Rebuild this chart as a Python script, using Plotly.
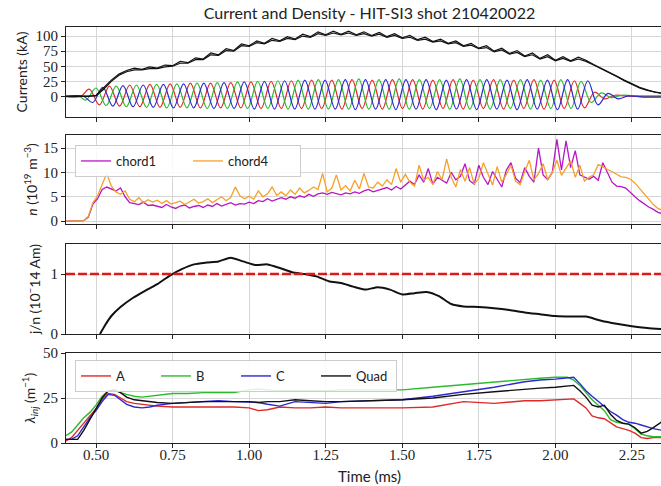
import plotly.graph_objects as go

# ---------------- data ----------------
# Panel 1: total toroidal current (two nearly overlapping black traces)
t_itor = [0.400, 0.425, 0.450, 0.475, 0.500, 0.525, 0.550, 0.575, 0.600, 0.625,
          0.650, 0.675, 0.700, 0.725, 0.750, 0.775, 0.800, 0.825, 0.850, 0.875,
          0.900, 0.925, 0.950, 0.975, 1.000, 1.025, 1.050, 1.075, 1.100, 1.125,
          1.150, 1.175, 1.200, 1.225, 1.250, 1.275, 1.300, 1.325, 1.350, 1.375,
          1.400, 1.425, 1.450, 1.475, 1.500, 1.525, 1.550, 1.575, 1.600, 1.625,
          1.650, 1.675, 1.700, 1.725, 1.750, 1.775, 1.800, 1.825, 1.850, 1.875,
          1.900, 1.925, 1.950, 1.975, 2.000, 2.025, 2.050, 2.075, 2.100, 2.125,
          2.150, 2.175, 2.200, 2.225, 2.250, 2.275, 2.300, 2.325, 2.350]
itor_1 = [0, 0, 0, 0, 2, 14, 27, 37, 43, 47,
          45, 49, 47, 52, 51, 58, 56, 64, 62, 72,
          69, 79, 76, 87, 84, 92, 88, 96, 92, 99,
          95, 103, 99, 107, 102, 108, 103, 108, 102, 107,
          101, 106, 99, 104, 97, 101, 94, 98, 91, 95,
          88, 92, 84, 88, 80, 84, 75, 80, 71, 76,
          67, 72, 63, 69, 60, 66, 59, 65, 60, 53,
          47, 41, 34, 27, 21, 15, 11, 7, 5]
itor_2 = [0, 0, 0, 0, 1, 12, 25, 35, 41, 44,
          44, 46, 46, 49, 50, 55, 55, 61, 61, 69,
          68, 76, 75, 84, 83, 89, 87, 93, 91, 96,
          94, 100, 98, 104, 101, 105, 102, 105, 101, 104,
          100, 103, 98, 101, 96, 98, 93, 95, 90, 92,
          87, 89, 83, 85, 79, 81, 74, 77, 70, 73,
          66, 69, 62, 66, 59, 63, 58, 62, 58, 52,
          46, 40, 33, 26, 20, 14, 10, 7, 5]

# Injector currents: extrema (peaks / troughs)
t_inj_a = [0.400, 0.450,
           0.478, 0.511, 0.544, 0.577, 0.610, 0.643, 0.676, 0.709, 0.742, 0.775,
           0.808, 0.841, 0.874, 0.907, 0.940, 0.973, 1.006, 1.039, 1.072, 1.105,
           1.138, 1.171, 1.204, 1.237, 1.270, 1.303, 1.336, 1.369, 1.402, 1.435,
           1.468, 1.501, 1.534, 1.567, 1.600, 1.633, 1.666, 1.699, 1.732, 1.765,
           1.798, 1.831, 1.864, 1.897, 1.930, 1.963, 1.996, 2.029, 2.062, 2.095,
           2.128, 2.161, 2.194,
           2.250, 2.350]
inj_a = [0, 0,
         12, -14, 17, -16, 19, -17, 20, -18, 21, -18,
         22, -19, 22, -19, 23, -19, 24, -20, 25, -20,
         26, -20, 27, -20, 27, -21, 28, -20, 27, -21,
         28, -20, 28, -21, 27, -20, 28, -21, 27, -20,
         28, -21, 27, -20, 28, -21, 27, -20, 26, -19,
         7, -4, 2,
         0, 0]
t_inj_b = [0.400, 0.445,
           0.467, 0.500, 0.533, 0.566, 0.599, 0.632, 0.665, 0.698, 0.731, 0.764,
           0.797, 0.830, 0.863, 0.896, 0.929, 0.962, 0.995, 1.028, 1.061, 1.094,
           1.127, 1.160, 1.193, 1.226, 1.259, 1.292, 1.325, 1.358, 1.391, 1.424,
           1.457, 1.490, 1.523, 1.556, 1.589, 1.622, 1.655, 1.688, 1.721, 1.754,
           1.787, 1.820, 1.853, 1.886, 1.919, 1.952, 1.985, 2.018, 2.051, 2.084,
           2.117, 2.150, 2.183, 2.216,
           2.270, 2.350]
inj_b = [0, 0,
         -6, 14, -15, 17, -17, 19, -18, 20, -19, 21,
         -19, 22, -20, 23, -20, 24, -20, 25, -20, 26,
         -21, 27, -21, 28, -21, 28, -21, 29, -21, 28,
         -21, 29, -21, 28, -20, 28, -21, 29, -21, 28,
         -21, 28, -20, 28, -21, 27, -20, 28, -20, 25,
         -10, 6, -2, 2,
         1, 1]
t_inj_c = [0.400, 0.460,
           0.489, 0.522, 0.555, 0.588, 0.621, 0.654, 0.687, 0.720, 0.753, 0.786,
           0.819, 0.852, 0.885, 0.918, 0.951, 0.984, 1.017, 1.050, 1.083, 1.116,
           1.149, 1.182, 1.215, 1.248, 1.281, 1.314, 1.347, 1.380, 1.413, 1.446,
           1.479, 1.512, 1.545, 1.578, 1.611, 1.644, 1.677, 1.710, 1.743, 1.776,
           1.809, 1.842, 1.875, 1.908, 1.941, 1.974, 2.007, 2.040, 2.073, 2.106,
           2.139, 2.172, 2.205, 2.238,
           2.290, 2.350]
inj_c = [0, 0,
         -10, 15, -16, 18, -17, 19, -18, 20, -19, 21,
         -19, 22, -20, 23, -20, 24, -21, 25, -21, 26,
         -21, 27, -21, 27, -21, 28, -22, 28, -21, 28,
         -22, 28, -21, 28, -22, 27, -21, 28, -22, 28,
         -21, 27, -22, 28, -21, 27, -22, 28, -21, 26,
         -14, 5, -4, 1,
         -1, -1]

# Panel 2: line-integrated density (10^19 m^-3)
t_dens = [0.400, 0.415, 0.430, 0.445, 0.460, 0.475, 0.490, 0.505, 0.520, 0.535,
          0.550, 0.565, 0.580, 0.595, 0.610, 0.625, 0.640, 0.655, 0.670, 0.685,
          0.700, 0.715, 0.730, 0.745, 0.760, 0.775, 0.790, 0.805, 0.820, 0.835,
          0.850, 0.865, 0.880, 0.895, 0.910, 0.925, 0.940, 0.955, 0.970, 0.985,
          1.000, 1.015, 1.030, 1.045, 1.060, 1.075, 1.090, 1.105, 1.120, 1.135,
          1.150, 1.165, 1.180, 1.195, 1.210, 1.225, 1.240, 1.255, 1.270, 1.285,
          1.300, 1.315, 1.330, 1.345, 1.360, 1.375, 1.390, 1.405, 1.420, 1.435,
          1.450, 1.465, 1.480, 1.495, 1.510, 1.525, 1.540, 1.555, 1.570, 1.585,
          1.600, 1.615, 1.630, 1.645, 1.660, 1.675, 1.690, 1.705, 1.720, 1.735,
          1.750, 1.765, 1.780, 1.795, 1.810, 1.825, 1.840, 1.855, 1.870, 1.885,
          1.900, 1.915, 1.930, 1.945, 1.960, 1.975, 1.990, 2.005, 2.020, 2.035,
          2.050, 2.065, 2.080, 2.095, 2.110, 2.125, 2.140, 2.155, 2.170, 2.185,
          2.200, 2.215, 2.230, 2.245, 2.260, 2.275, 2.290, 2.305, 2.320, 2.335,
          2.350]
chord1 = [0, 0, 0, 0, 0.1, 0.8, 3.5, 4.6, 6.5, 7.0,
          6.6, 6.2, 6.8, 5.0, 3.8, 3.6, 3.4, 3.9, 3.2, 3.3,
          3.0, 2.8, 3.4, 2.9, 2.6, 3.1, 3.3, 2.7, 3.0, 3.2,
          2.8, 3.3, 3.0, 3.6, 3.1, 3.4, 3.8, 3.3, 3.6, 3.5,
          3.9, 3.6, 4.2, 4.0, 4.6, 4.1, 4.4, 4.8, 4.5, 5.0,
          4.7, 5.2, 4.9, 5.5, 5.1, 5.6, 5.8, 5.5, 5.9, 5.7,
          5.4, 5.8, 5.6, 6.0, 5.7, 6.2, 6.5, 6.0, 6.3, 6.6,
          6.9, 6.4, 7.1, 6.6, 7.4, 8.2, 7.5, 9.5, 8.0, 10.8,
          7.6, 9.0, 8.4, 7.8, 10.0, 8.5, 9.2, 11.8, 8.3, 7.6,
          11.5, 9.0, 7.5, 10.2, 8.6, 7.0, 10.5, 12.0, 8.8, 7.9,
          11.0, 9.2, 8.0, 15.0, 9.5, 8.5, 10.0, 16.8, 10.5, 16.5,
          11.0, 14.5, 9.5, 9.0, 8.6, 9.2, 8.4, 12.0, 10.0, 8.0,
          7.2, 7.1, 6.8, 5.8, 5.0, 4.2, 3.5, 2.9, 2.4, 1.8,
          1.5]
chord4 = [0, 0, 0, 0, 0.1, 1.0, 3.8, 5.2, 7.5, 9.8,
          7.2, 6.0, 5.5, 6.2, 4.5, 4.0, 4.8, 3.8, 4.4, 3.9,
          4.3, 3.6, 4.2, 3.5, 3.8, 4.1, 3.4, 3.9, 4.5, 3.7,
          4.0, 4.6, 3.8, 4.4, 5.0, 4.2, 4.9, 7.0, 5.2, 4.6,
          5.1, 4.5, 6.2, 5.0, 5.6, 7.0, 5.3, 6.0, 5.2, 6.4,
          5.5, 6.8, 5.8, 6.3, 7.0, 6.5, 9.8, 6.0, 6.8, 9.5,
          6.4, 7.3, 6.2, 8.4, 6.6, 9.8, 7.0, 6.8, 8.0, 7.2,
          8.5, 7.5, 10.8, 8.0, 9.6, 8.0, 7.2, 11.5, 8.4, 9.0,
          7.5, 10.2, 8.5, 12.8, 9.0, 7.0, 10.6, 8.2, 11.0, 7.6,
          8.8, 12.0, 9.5, 7.4, 11.2, 8.0, 9.6, 11.5, 8.2, 7.5,
          10.2, 12.5, 8.4, 9.8, 11.8, 8.5, 10.0, 12.5, 9.4, 11.0,
          12.4, 9.0, 11.5, 8.2, 9.0, 9.5, 11.6, 11.2, 10.6, 10.2,
          9.6, 9.1, 9.0, 8.6, 7.8, 6.8, 5.6, 4.5, 3.4, 2.6,
          2.2]

# Panel 3: j/n (10^-14 A m)
t_jn = [0.513, 0.530, 0.550, 0.580, 0.620, 0.660, 0.700, 0.740, 0.780, 0.820,
        0.860, 0.900, 0.940, 0.980, 1.020, 1.060, 1.100, 1.140, 1.180, 1.220,
        1.260, 1.300, 1.340, 1.380, 1.420, 1.460, 1.500, 1.540, 1.580, 1.620,
        1.660, 1.700, 1.750, 1.800, 1.850, 1.900, 1.950, 2.000, 2.050, 2.100,
        2.150, 2.200, 2.250, 2.300, 2.350]
jn = [0.00, 0.15, 0.30, 0.45, 0.60, 0.72, 0.83, 0.97, 1.08, 1.16,
      1.19, 1.21, 1.27, 1.21, 1.15, 1.16, 1.10, 1.03, 1.00, 0.96,
      0.88, 0.85, 0.79, 0.74, 0.78, 0.74, 0.66, 0.68, 0.70, 0.63,
      0.50, 0.46, 0.45, 0.43, 0.40, 0.36, 0.33, 0.30, 0.29, 0.29,
      0.22, 0.17, 0.13, 0.10, 0.08]
jn_threshold = 1.0

# Panel 4: lambda_inj (m^-1)
t_lam = [0.400, 0.420, 0.440, 0.460, 0.480, 0.500, 0.520, 0.540, 0.560, 0.580,
         0.600, 0.625, 0.650, 0.675, 0.700, 0.750, 0.800, 0.850, 0.900, 0.950,
         1.000, 1.030, 1.060, 1.100, 1.150, 1.200, 1.250, 1.300, 1.400, 1.500,
         1.600, 1.700, 1.800, 1.900, 1.950, 2.000, 2.040, 2.060, 2.080, 2.100,
         2.120, 2.140, 2.160, 2.180, 2.200, 2.220, 2.240, 2.260, 2.280, 2.300,
         2.320, 2.350]
lam_a = [1, 3, 7, 11, 15, 19, 24, 27.5, 27, 25,
         23, 22, 21.5, 21, 20.5, 20, 20, 20, 20, 20,
         19.5, 18, 18.5, 20, 19.5, 19.5, 20, 19.5, 19.5, 19.5,
         20, 23, 22, 23.5, 23.5, 24, 24, 24.5, 22, 19.5,
         15, 14, 13.5, 11, 9, 8, 7, 5.5, 3, 2.5,
         3, 3]
lam_b = [4, 6, 10, 14, 17, 21, 26, 29, 29.5, 28,
         27, 26, 25.5, 26, 26.5, 27.5, 27.5, 28, 28, 28,
         29.5, 30, 29.5, 29, 29, 29, 29, 29.5, 29.5, 29.5,
         31, 32.5, 34, 35.5, 36, 36.5, 36.5, 35, 32, 28,
         24, 21, 18, 13, 11.5, 11, 10.5, 8, 5, 4,
         3.5, 3.5]
lam_c = [2, 2, 4, 9, 14, 18, 23, 27, 26.5, 24,
         21.5, 20, 19.5, 20, 21, 22, 22.5, 23, 23.5, 23,
         22.5, 22.5, 21.5, 20.5, 23, 22.5, 22, 23, 23.5, 24,
         26, 28.5, 31, 34, 35, 35.5, 36, 36.5, 33, 29,
         26, 23, 20, 17.5, 15.5, 13, 11.5, 11, 10, 9,
         8, 7]
lam_quad = [2, 2, 2, 7, 13, 19, 25, 29, 29.5, 28,
            25.5, 24, 23.5, 23, 22.5, 22, 22.5, 23, 23, 23,
            23, 22.5, 23, 23, 24, 23.5, 23, 23, 23.5, 24,
            25, 27, 28.5, 30, 30.5, 31, 31.5, 32, 29, 25.5,
            21, 20, 21, 16, 12.5, 11, 10.5, 8.5, 5.5, 6.5,
            8.5, 12]

x_ticks = [0.50, 0.75, 1.00, 1.25, 1.50, 1.75, 2.00, 2.25]
x_tick_text = ["0.50", "0.75", "1.00", "1.25", "1.50", "1.75", "2.00", "2.25"]
cur_ticks = [0, 25, 50, 75, 100]
dens_ticks = [0, 5, 10, 15]
jn_ticks = [0, 1]
lam_ticks = [0, 25, 50]

# ---------------- figure ----------------
RED, GREEN, BLUE = "#e02828", "#2cba2c", "#2a2ad0"
SERIF = "Liberation Serif"
SANS = "Lato"

fig = go.Figure()

# panel 1 (top) -> x4/y4
for tt, vv, col in [(t_inj_a, inj_a, RED), (t_inj_b, inj_b, GREEN), (t_inj_c, inj_c, BLUE)]:
    fig.add_trace(go.Scatter(x=tt, y=vv, mode="lines", line=dict(color=col, width=1.2, shape="spline", smoothing=1.0),
                             xaxis="x4", yaxis="y4", showlegend=False))
fig.add_trace(go.Scatter(x=t_itor, y=itor_2, mode="lines", line=dict(color="#111", width=1.2),
                         xaxis="x4", yaxis="y4", showlegend=False))
fig.add_trace(go.Scatter(x=t_itor, y=itor_1, mode="lines", line=dict(color="#111", width=1.2),
                         xaxis="x4", yaxis="y4", showlegend=False))

# panel 2 -> x3/y3
fig.add_trace(go.Scatter(x=t_dens, y=chord1, mode="lines", name="chord1", line=dict(color="#b816c4", width=1.3),
                         xaxis="x3", yaxis="y3", legend="legend"))
fig.add_trace(go.Scatter(x=t_dens, y=chord4, mode="lines", name="chord4", line=dict(color="#f5a02a", width=1.3),
                         xaxis="x3", yaxis="y3", legend="legend"))

# panel 3 -> x2/y2
fig.add_trace(go.Scatter(x=t_jn, y=jn, mode="lines", line=dict(color="#111", width=2, shape="spline", smoothing=0.6),
                         xaxis="x2", yaxis="y2", showlegend=False))
fig.add_shape(type="line", xref="x2 domain", x0=0, x1=1, yref="y2", y0=jn_threshold, y1=jn_threshold,
              line=dict(color="#e01818", width=2.5, dash="9px,3px"))

# panel 4 -> x/y
for vv, nm, col in [(lam_a, "A", RED), (lam_b, "B", GREEN), (lam_c, "C", BLUE), (lam_quad, "Quad", "#111")]:
    fig.add_trace(go.Scatter(x=t_lam, y=vv, mode="lines", name=nm, line=dict(color=col, width=1.4),
                             xaxis="x", yaxis="y", legend="legend2"))

axis_common = dict(showgrid=True, gridcolor="#d6d6d6", gridwidth=1, showline=True, mirror=True,
                   linecolor="#222", linewidth=1, ticks="outside", ticklen=4, tickcolor="#222",
                   tickfont=dict(family=SERIF, size=15, color="#222"), zeroline=False)
xr = [0.402, 2.345]
xcommon = dict(axis_common, range=xr, tickvals=x_ticks, ticktext=x_tick_text)

H = 416.0
def dom(top_px, bot_px):
    return [(443 - bot_px) / H, (443 - top_px) / H]

ytitle_font = dict(family=SANS, size=14, color="#222")

fig.update_layout(
    width=661, height=486,
    margin=dict(l=66, r=0, t=27, b=43),
    paper_bgcolor="white", plot_bgcolor="white",
    showlegend=True,
    title=dict(text="Current and Density - HIT-SI3 shot 210420022", x=0.51, xref="paper", xanchor="center",
               y=1 - 13 / 486, yref="container", yanchor="middle",
               font=dict(family=SANS, size=16, color="#222")),
    xaxis=dict(xcommon, anchor="y", domain=[0, 1], showticklabels=True, ticklabelstandoff=-6),
    xaxis2=dict(xcommon, anchor="y2", matches="x", showticklabels=False),
    xaxis3=dict(xcommon, anchor="y3", matches="x", showticklabels=False),
    xaxis4=dict(xcommon, anchor="y4", matches="x", showticklabels=False),
    yaxis=dict(axis_common, domain=dom(353, 443), range=[0, 50], tickvals=lam_ticks,
               title=dict(text="<i>λ<sub>inj</sub></i> (m<sup>−1</sup>)", font=ytitle_font, standoff=4)),
    yaxis2=dict(axis_common, domain=dom(244, 334), range=[0, 1.5], tickvals=jn_ticks,
                title=dict(text="j/n (10<sup>−</sup>14 Am)", font=ytitle_font, standoff=6)),
    yaxis3=dict(axis_common, domain=dom(135, 224), range=[-0.6, 17.7], tickvals=dens_ticks,
                title=dict(text="<i>n</i> (10<sup>19</sup> m<sup>−3</sup>)", font=ytitle_font, standoff=2)),
    yaxis4=dict(axis_common, domain=dom(27, 117), range=[-34, 115], tickvals=cur_ticks,
                title=dict(text="Currents (kA)", font=ytitle_font, standoff=4)),
    legend=dict(x=(75 - 66) / 595, xanchor="left", y=(443 - 145) / H, yanchor="top",
                orientation="h", entrywidth=67, itemwidth=30,
                bgcolor="rgba(255,255,255,0.85)", bordercolor="#cccccc", borderwidth=1,
                font=dict(family=SANS, size=13, color="#222")),
    legend2=dict(x=(75 - 66) / 595, xanchor="left", y=(443 - 360) / H, yanchor="top",
                 orientation="h", entrywidth=35, itemwidth=30,
                 bgcolor="rgba(255,255,255,0.85)", bordercolor="#cccccc", borderwidth=1,
                 font=dict(family=SANS, size=13, color="#222")),
    annotations=[dict(text="Time (ms)", xref="paper", yref="paper", x=0.51, y=(443 - 476) / H,
                      xanchor="center", yanchor="middle", showarrow=False,
                      font=dict(family=SANS, size=15, color="#222"))],
)

fig.write_html("out.html")
